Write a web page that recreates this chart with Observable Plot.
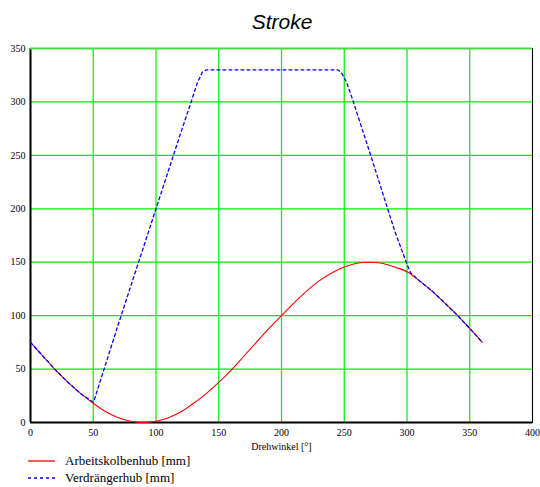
<!DOCTYPE html>
<html>
<head>
<meta charset="utf-8">
<script src="https://cdn.jsdelivr.net/npm/d3@7"></script>
<script src="https://cdn.jsdelivr.net/npm/@observablehq/plot@0.6"></script>
<style>
  body { margin: 0; background: #fff; width: 540px; }
  #title { height: 40px; line-height: 44px; text-align: center; font-family: "Liberation Sans", Arial, sans-serif; font-style: italic; font-size: 21px; color: #000; padding-left: 24px; box-sizing: border-box; }
  #legend { font-family: "Liberation Serif", "Times New Roman", Times, serif; font-size: 13px; color: #000; margin-top: 0px; }
  .row { display: flex; align-items: center; height: 17px; }
  .row svg { margin-left: 28px; margin-right: 10px; }
  #chart svg text { font-family: "Liberation Serif", "Times New Roman", Times, serif; }
</style>
</head>
<body>
<div id="title">Stroke</div>
<div id="chart"></div>
<div id="legend"></div>
<script>
// Drehwinkel [°]
const angleRed = [0,10,20,30,40,50,60,70,80,90,100,110,120,130,140,150,160,170,180,190,200,210,220,230,240,250,260,270,280,290,300,310,320,330,340,350,360];
// Arbeitskolbenhub [mm]
const strokeRed = [75,62,49,37.5,27,18,10,4.5,1.2,0,1.2,4.5,10,18,27,37.5,49,62,75,88,100,112,123,132.5,140,145.5,149,150,149,145.5,141,132.5,123,112,100.5,88,75];
// Verdrängerhub [mm]
const angleBlue = [0,10,20,30,40,50,50.5,60,70,80,90,100,110,120,128,133,137,140,150,200,245,248,252,257,260,270,280,290,300,303,310,320,330,340,350,360];
const strokeBlue = [75,62,49,37.5,27,19,20,55,92,128,164,200,236,272,300,318,328,330,330,330,330,327,318,301,290,254,217,180,148,140,132.5,123,112,100.5,88,75];

const xTicks = [0,50,100,150,200,250,300,350,400];
const yTicks = [0,50,100,150,200,250,300,350];
const xLabel = "Drehwinkel [°]";
const labels = ["Arbeitskolbenhub [mm]", "Verdrängerhub [mm]"];
const colors = ["#ff0000", "#0000ff"];

const red = angleRed.map((a, i) => ({a, v: strokeRed[i]}));
const blue = angleBlue.map((a, i) => ({a, v: strokeBlue[i]}));
const serif = "'Liberation Serif', 'Times New Roman', Times, serif";

const chart = Plot.plot({
  width: 540,
  height: 412,
  marginTop: 8,
  marginBottom: 30,
  marginLeft: 30,
  marginRight: 8,
  style: { fontFamily: serif, fontSize: "10px", background: "#fff", color: "#000" },
  x: { domain: [0, 400], label: null },
  y: { domain: [0, 350], label: null },
  marks: [
    Plot.gridX(xTicks, { stroke: "#00ee00", strokeOpacity: 1, strokeWidth: 1.2 }),
    Plot.gridY(yTicks, { stroke: "#00ee00", strokeOpacity: 1, strokeWidth: 1.2 }),
    Plot.frame({ stroke: "#000", strokeWidth: 1 }),
    Plot.ruleX([0], { stroke: "#000", strokeWidth: 2 }),
    Plot.ruleY([0], { stroke: "#000", strokeWidth: 2 }),
    Plot.ruleY([350], { stroke: "#44dd44", strokeWidth: 2 }),
    Plot.line(red, { x: "a", y: "v", stroke: colors[0], strokeWidth: 1.1, curve: "catmull-rom" }),
    Plot.line(blue, { x: "a", y: "v", stroke: colors[1], strokeWidth: 1.3, strokeDasharray: "3,3", curve: "linear" }),
    Plot.axisX(xTicks, { tickSize: 0, tickPadding: 6, label: null, fontFamily: serif }),
    Plot.axisY(yTicks, { tickSize: 0, tickPadding: 5, label: null, fontFamily: serif }),
    Plot.text([xLabel], { frameAnchor: "bottom", dy: 27, fontFamily: serif, fontSize: 10, fill: "#000" })
  ]
});
document.getElementById("chart").appendChild(chart);

const legend = document.getElementById("legend");
labels.forEach((t, i) => {
  const row = document.createElement("div");
  row.className = "row";
  const dash = i === 1 ? ' stroke-dasharray="3,3"' : '';
  row.innerHTML = `<svg width="27" height="6"><line x1="0" y1="3" x2="27" y2="3" stroke="${colors[i]}" stroke-width="1.3"${dash}/></svg><span>${t}</span>`;
  legend.appendChild(row);
});
</script>
</body>
</html>
